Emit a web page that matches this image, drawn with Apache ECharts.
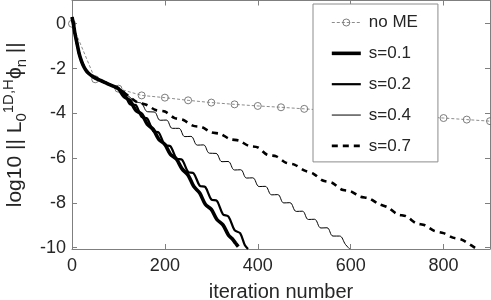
<!DOCTYPE html>
<html><head><meta charset="utf-8">
<script src="https://cdn.jsdelivr.net/npm/echarts@6/dist/echarts.min.js"></script>
<style>html,body{margin:0;padding:0;background:#fff}#c{width:491px;height:300px}</style>
</head><body><div id="c"></div>
<script>
const xTicks = [0, 200, 400, 600, 800];
const yTicks = [-10, -8, -6, -4, -2, 0];
const seriesNames = ['no ME', 's=0.1', 's=0.2', 's=0.4', 's=0.7'];

const noME = [[0,0],[50,-2.48],[100,-2.9],[150,-3.2],[200,-3.3],[250,-3.42],[300,-3.52],[350,-3.6],[400,-3.67],[450,-3.73],[500,-3.8],[550,-3.87],[600,-3.93],[650,-4.0],[700,-4.07],[750,-4.14],[800,-4.21],[850,-4.28],[900,-4.35]];
const startPart = [[0,0.3],[3,0.0],[6,-0.4],[10,-0.8],[15,-1.3],[20,-1.65],[25,-1.9],[30,-2.08],[35,-2.2],[45,-2.36],[60,-2.52],[75,-2.66],[90,-2.8],[100,-2.9]];
const s01 = [[112,-3.25],[125,-3.44],[137,-3.85],[150,-4.04],[162,-4.48],[175,-4.72],[187,-5.16],[200,-5.39],[212,-5.83],[225,-6.05],[237,-6.48],[250,-6.76],[262,-7.26],[275,-7.56],[287,-8.06],[300,-8.29],[312,-8.74],[325,-8.98],[337,-9.44],[345,-9.6],[352,-9.79],[358,-9.95]];
const s02 = [[112,-3.06],[125,-3.6],[137,-3.63],[150,-4.17],[162,-4.23],[175,-4.8],[187,-4.86],[200,-5.42],[212,-5.47],[225,-6.02],[237,-6.07],[250,-6.62],[262,-6.68],[275,-7.23],[287,-7.29],[300,-7.85],[312,-7.91],[325,-8.51],[337,-8.61],[350,-9.22],[362,-9.35],[372,-9.88],[379,-10.06]];
const s04 = [[110,-3.05],[120,-3.2],[130,-3.38],[140,-3.5],[150,-3.56],[163,-3.93],[177,-3.94],[190,-4.31],[203,-4.3],[216,-4.67],[230,-4.67],[243,-5.04],[256,-5.03],[270,-5.42],[283,-5.41],[296,-5.78],[310,-5.79],[323,-6.16],[336,-6.15],[350,-6.53],[363,-6.52],[376,-6.89],[389,-6.88],[403,-7.27],[416,-7.26],[430,-7.64],[443,-7.63],[456,-8.0],[469,-7.99],[483,-8.38],[496,-8.37],[509,-8.74],[522,-8.73],[536,-9.12],[549,-9.11],[562,-9.48],[576,-9.48],[589,-9.86],[598,-10.06]];
const s07 = [[120,-3.2],[140,-3.5],[160,-3.62],[180,-3.85],[200,-3.92],[220,-4.2],[240,-4.3],[260,-4.55],[280,-4.62],[300,-4.85],[320,-4.92],[340,-5.15],[360,-5.22],[380,-5.45],[400,-5.52],[420,-5.85],[440,-5.92],[460,-6.2],[480,-6.3],[500,-6.55],[520,-6.7],[540,-7.0],[560,-7.1],[580,-7.4],[600,-7.48],[620,-7.72],[640,-7.8],[660,-8.05],[680,-8.2],[700,-8.5],[720,-8.6],[740,-8.9],[760,-9.0],[780,-9.25],[800,-9.35],[820,-9.55],[840,-9.65],[860,-9.9],[872,-10.06]];

const chart = echarts.init(document.getElementById('c'), null, {renderer: 'canvas'});
const axisCol = '#7f7f7f';
const txtCol = '#262626';
const font = 'Liberation Sans, Arial, sans-serif';
const hiddenSym = {color:'rgba(0,0,0,0)', borderColor:'rgba(0,0,0,0)', borderWidth:0};

function xAxisCfg(pos, show){
  return {type:'value', position:pos, min:0, max:900,
    axisLine:{show:true, onZero:false, lineStyle:{color:axisCol, width:1}},
    axisTick:{show:true, inside:true, length:5, customValues:xTicks, lineStyle:{color:axisCol}},
    axisLabel:{show:show, color:txtCol, fontSize:18, fontFamily:font, margin:8, customValues:xTicks},
    splitLine:{show:false},
    name: show ? 'iteration number' : '', nameLocation:'middle', nameGap:33,
    nameTextStyle:{color:txtCol, fontSize:20, fontFamily:font}};
}
function yAxisCfg(pos, show){
  return {type:'value', position:pos, min:-10.058, max:1.038,
    axisLine:{show:true, onZero:false, lineStyle:{color:axisCol, width:1}},
    axisTick:{show:true, inside:true, length:5, customValues:yTicks, lineStyle:{color:axisCol}},
    axisLabel:{show:show, color:txtCol, fontSize:18, fontFamily:font, margin:6, customValues:yTicks},
    splitLine:{show:false},
    name: show ? '{a|log10 || L}{sub|0}{sup|1D,H}{a|ϕ}{sub|n}{a| ||}' : '',
    nameLocation:'middle', nameGap:42,
    nameTextStyle:{color:txtCol, fontSize:21, fontFamily:font,
      rich:{a:{fontSize:21, fontFamily:font, color:txtCol, lineHeight:28, verticalAlign:'middle'},
            sub:{fontSize:15, fontFamily:font, color:txtCol, lineHeight:28, verticalAlign:'bottom'},
            sup:{fontSize:15, fontFamily:font, color:txtCol, lineHeight:28, verticalAlign:'top'}}}};
}

const full = arr => startPart.concat(arr);

chart.setOption({
  animation:false,
  backgroundColor:'#fff',
  grid:{left:72, right:1, top:0.5, bottom:51, containLabel:false, outerBoundsMode:'none'},
  xAxis:[xAxisCfg('bottom', true), xAxisCfg('top', false)],
  yAxis:[yAxisCfg('left', true), yAxisCfg('right', false)],
  legend:{
    orient:'vertical', left:313, top:4,
    data: [
      {name:seriesNames[0], itemStyle:{color:'rgba(255,255,255,0)', borderColor:'#6e6e6e', borderWidth:0.9}, lineStyle:{width:0.8}},
      {name:seriesNames[1], itemStyle:hiddenSym, lineStyle:{width:3.6}},
      {name:seriesNames[2], itemStyle:hiddenSym, lineStyle:{width:2.2}},
      {name:seriesNames[3], itemStyle:hiddenSym, lineStyle:{width:1}},
      {name:seriesNames[4], itemStyle:hiddenSym, lineStyle:{width:2.6}}
    ],
    itemWidth:29, itemHeight:8.75, itemGap:13.85,
    padding:[10, 20, 7.5, 17],
    borderColor:'#8c8c8c', borderWidth:1, backgroundColor:'#fff',
    textStyle:{color:txtCol, fontSize:17, fontFamily:font, padding:[0,0,0,3]},
    selectedMode:false
  },
  series:[
    {name:seriesNames[0], type:'line', data:noME, symbol:'circle', symbolSize:7, showSymbol:true,
      lineStyle:{color:'#6e6e6e', width:0.8, type:[3,2]},
      itemStyle:{color:'rgba(255,255,255,0)', borderColor:'#6e6e6e', borderWidth:0.9}, z:1},
    {name:seriesNames[1], type:'line', data:full(s01), symbol:'none', smooth:0.3, lineStyle:{color:'#000', width:3.6}, itemStyle:{color:'#000'}, z:5},
    {name:seriesNames[2], type:'line', data:full(s02), symbol:'none', smooth:0.3, lineStyle:{color:'#000', width:2.2}, itemStyle:{color:'#000'}, z:4},
    {name:seriesNames[3], type:'line', data:full(s04), symbol:'none', smooth:0.4, lineStyle:{color:'#000', width:1}, itemStyle:{color:'#000'}, z:3},
    {name:seriesNames[4], type:'line', data:full(s07), symbol:'none', smooth:0.3, lineStyle:{color:'#000', width:2.6, type:[6,5]}, itemStyle:{color:'#000'}, z:2}
  ]
});
</script></body></html>
